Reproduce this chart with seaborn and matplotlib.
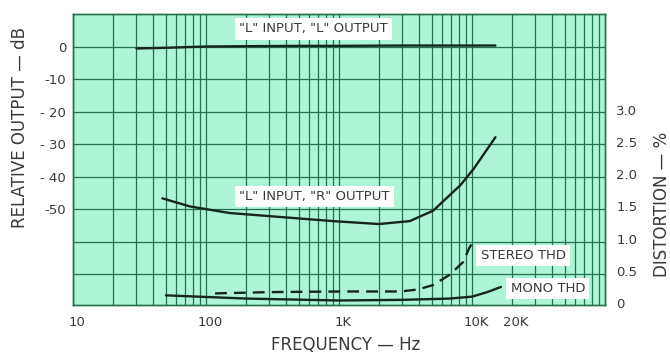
import pandas as pd
import numpy as np
import seaborn as sns
import matplotlib.pyplot as plt
import matplotlib.transforms as mtransforms

##################### data

# "L" input, "L" output (dB)
freq_ll = [30, 50, 70, 100, 200, 500, 1000, 3000, 8000, 15000]
db_ll = [-0.6, -0.4, -0.2, 0.0, 0.1, 0.2, 0.2, 0.3, 0.3, 0.3]

# "L" input, "R" output (dB)
freq_lr = [47, 76, 150, 380, 900, 2000, 3400, 5100, 8200, 10300, 15000]
db_lr = [-46.7, -49.2, -51.2, -52.5, -53.7, -54.6, -53.7, -50.5, -42.6, -37.6, -27.9]

# stereo THD (%)
freq_stereo = [117, 300, 1000, 2900, 3900, 5100, 6800, 8600, 9500, 10500]
thd_stereo = [0.15, 0.17, 0.18, 0.18, 0.21, 0.28, 0.44, 0.64, 0.85, 1.0]

# mono THD (%)
freq_mono = [50, 200, 1000, 3000, 6800, 10000, 13000, 16500]
thd_mono = [0.12, 0.07, 0.04, 0.05, 0.07, 0.10, 0.17, 0.25]

# axis ticks
x_ticks = [10, 100, 1000, 10000, 20000]
x_labels = ['10', '100', '1K', '10K', '20K']
db_ticks = [0, -10, -20, -30, -40, -50]
db_labels = ['0', '-10', '- 20', '- 30', '- 40', '-50']
thd_ticks = [0, 0.5, 1.0, 1.5, 2.0, 2.5, 3.0]
thd_labels = ['0', '0.5', '1.0', '1.5', '2.0', '2.5', '3.0']

##################### styling

sns.set_style('white')
plt.rcParams['font.family'] = ['DejaVu Sans']

bg = '#aef4d6'
grid_col = '#22724f'
ink = '#15261d'
txt = '#3a3a3a'

fig = plt.figure(figsize=(6.7, 3.53), dpi=100)
ax = fig.add_axes([73 / 670, 1 - 305 / 353, 532 / 670, 291 / 353])
ax.set_facecolor(bg)
ax.set_xscale('log')
ax.set_xlim(10, 100000)
ax.set_ylim(-79.5, 10)

# log paper grid
minor = [m * 10 ** d for d in range(1, 5) for m in range(2, 10)]
for f in [10, 100, 1000, 10000] + minor:
    ax.axvline(f, color=grid_col, lw=0.9, zorder=1)
for d in range(-70, 10, 10):
    ax.axhline(d, color=grid_col, lw=0.9, zorder=1)

##################### curves

df_ll = pd.DataFrame({'freq': freq_ll, 'db': db_ll})
df_lr = pd.DataFrame({'freq': freq_lr, 'db': db_lr})
sns.lineplot(data=df_ll, x='freq', y='db', ax=ax, color=ink, lw=1.7, estimator=None, zorder=3)
sns.lineplot(data=df_lr, x='freq', y='db', ax=ax, color=ink, lw=1.7, estimator=None, zorder=3)

ax2 = ax.twinx()
ax2.set_ylim(-0.03, 4.49)
df_st = pd.DataFrame({'freq': freq_stereo, 'thd': thd_stereo})
df_mo = pd.DataFrame({'freq': freq_mono, 'thd': thd_mono})
sns.lineplot(data=df_st, x='freq', y='thd', ax=ax2, color=ink, lw=1.7,
             estimator=None, linestyle=(0, (5, 3)))
sns.lineplot(data=df_mo, x='freq', y='thd', ax=ax2, color=ink, lw=1.7, estimator=None)

##################### axes, ticks, labels

ax.set_xticks(x_ticks)
ax.set_xticklabels(x_labels)
ax.xaxis.set_minor_locator(plt.NullLocator())
ax.set_yticks(db_ticks)
ax.set_yticklabels(db_labels)
ax.tick_params(axis='x', length=0, pad=8, labelsize=9.5, labelcolor=txt)
ax.tick_params(axis='y', length=0, pad=5, labelsize=9.5, labelcolor=txt)
shift = mtransforms.ScaledTranslation(4 / 100, 0, fig.dpi_scale_trans)
for lab in ax.get_xticklabels():
    lab.set_transform(lab.get_transform() + shift)

ax2.set_yticks(thd_ticks)
ax2.set_yticklabels(thd_labels)
ax2.tick_params(axis='y', length=0, pad=8, labelsize=9.5, labelcolor=txt)

ax.set_xlabel('')
ax.set_ylabel('')
ax2.set_xlabel('')
ax2.set_ylabel('')
for a in (ax, ax2):
    for s in a.spines.values():
        s.set_color(grid_col)
        s.set_linewidth(1.0)

fig.text(20 / 670, 1 - 128 / 353, 'RELATIVE OUTPUT — dB', rotation=90,
         ha='center', va='center', fontsize=12, color=txt)
fig.text(662 / 670, 1 - 204 / 353, 'DISTORTION — %', rotation=90,
         ha='center', va='center', fontsize=12, color=txt)
fig.text(346 / 670, 1 - 345 / 353, 'FREQUENCY — Hz',
         ha='center', va='center', fontsize=12, color=txt)

# curve labels in white boxes
box = dict(facecolor='white', edgecolor='none', pad=3)
labels = [('"L" INPUT, "L" OUTPUT', 638, 5.4),
          ('"L" INPUT, "R" OUTPUT', 649, -46.1),
          ('STEREO THD', 24200, -64.2),
          ('MONO THD', 37200, -74.4)]
for s, fx, fy in labels:
    ax2.text(fx, fy, s, transform=ax.transData, ha='center', va='center',
             fontsize=9.5, color=txt, bbox=box, zorder=5)

fig.savefig('out.png', dpi=100, facecolor='white')
